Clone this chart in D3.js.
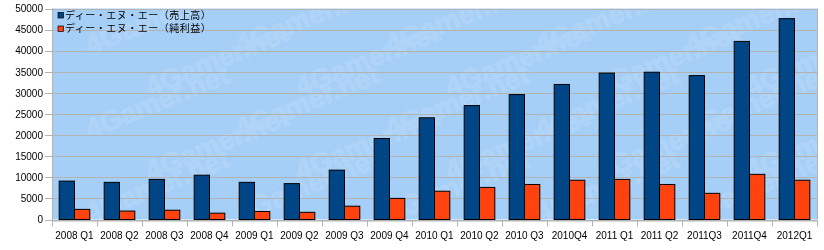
<!DOCTYPE html>
<html>
<head>
<meta charset="utf-8">
<script src="https://cdn.jsdelivr.net/npm/d3@7"></script>
<style>
  body { margin: 0; background: #fff; }
  text { font-family: "Liberation Sans", Arial, sans-serif; }
</style>
</head>
<body>
<div class="chart"></div>
<script>
var quarters = ['2008 Q1', '2008 Q2', '2008 Q3', '2008 Q4', '2009 Q1', '2009 Q2', '2009 Q3', '2009 Q4',
  '2010 Q1', '2010 Q2', '2010 Q3', '2010Q4', '2011 Q1', '2011 Q2', '2011Q3', '2011Q4', '2012Q1'];
var sales = [9100, 8800, 9500, 10500, 8800, 8500, 11700, 19200, 24100, 27000, 29600, 32000, 34700, 34900, 34100, 42200, 47600];
var profit = [2400, 2000, 2200, 1500, 1900, 1700, 3150, 5000, 6700, 7600, 8300, 9300, 9500, 8300, 6200, 10700, 9300];
var seriesNames = ['ディー・エヌ・エー（売上高）', 'ディー・エヌ・エー（純利益）'];
var colors = ['#004586', '#ff420e'];
var yTicks = [0, 5000, 10000, 15000, 20000, 25000, 30000, 35000, 40000, 45000, 50000];

var W = 824, H = 250;
var plotLeft = 52, plotRight = 817, plotTop = 8.5, plotBottom = 219.5;

var svg = d3.select('.chart')
  .append('svg')
    .attr('width', W)
    .attr('height', H);

var x = d3.scaleBand().domain(quarters).range([plotLeft, plotRight]);
var x1 = d3.scaleBand().domain([0, 1]).range([0, x.bandwidth()]).paddingOuter(0.47);
var y = d3.scaleLinear().domain([0, 50000]).range([plotBottom, plotTop]);

svg.append('clipPath').attr('id', 'plotclip')
  .append('rect')
  .attr('x', plotLeft).attr('y', plotTop)
  .attr('width', plotRight - plotLeft).attr('height', plotBottom - plotTop);

// plot background
svg.append('rect')
  .attr('x', plotLeft).attr('y', plotTop)
  .attr('width', plotRight - plotLeft).attr('height', plotBottom - plotTop)
  .attr('fill', '#a6cff7');

// faint watermark (decoration in the source image)
var wm = svg.append('g').attr('opacity', 0.12).attr('clip-path', 'url(#plotclip)');
for (var r = 0; r < 5; r++) {
  for (var c = 0; c < 5; c++) {
    wm.append('text')
      .attr('transform', 'translate(' + (90 + c * 150 + (r % 2) * 60) + ',' + (55 + r * 42) + ') rotate(-22)')
      .attr('font-size', 28)
      .attr('font-weight', 'bold')
      .attr('fill', '#ffffff')
      .attr('stroke', '#ffffff')
      .attr('stroke-width', 1)
      .text('4Gamer.net');
  }
}

// gridlines
svg.append('g')
  .selectAll('line')
  .data(yTicks)
  .enter()
    .append('line')
    .attr('x1', plotLeft - 7).attr('x2', plotRight)
    .attr('y1', d => Math.round(y(d)) + 0.5)
    .attr('y2', d => Math.round(y(d)) + 0.5)
    .attr('stroke', '#b3b3b3');

svg.append('line')
  .attr('x1', plotRight + 0.5).attr('x2', plotRight + 0.5)
  .attr('y1', plotTop).attr('y2', plotBottom)
  .attr('stroke', '#b3b3b3');

// y axis
var yAxis = svg.append('g')
  .attr('transform', 'translate(' + (plotLeft - 7) + ',0)')
  .call(d3.axisLeft(y).tickValues(yTicks).tickSize(0).tickPadding(2).tickFormat(d3.format('d')));
yAxis.select('.domain').remove();
yAxis.selectAll('text').attr('font-size', 10).attr('fill', '#000').attr('font-family', '"Liberation Sans", Arial, sans-serif');

svg.append('line')
  .attr('x1', plotLeft + 0.5).attr('x2', plotLeft + 0.5)
  .attr('y1', plotTop).attr('y2', plotBottom + 6)
  .attr('stroke', '#b3b3b3');

// x axis
var xAxis = svg.append('g')
  .attr('transform', 'translate(0,' + (Math.round(plotBottom) + 0.5) + ')')
  .call(d3.axisBottom(x).tickSize(0).tickPadding(11));
xAxis.select('.domain').attr('stroke', '#b3b3b3');
xAxis.selectAll('text').attr('font-size', 10).attr('fill', '#000').attr('font-family', '"Liberation Sans", Arial, sans-serif');
xAxis.selectAll('.sep')
  .data(quarters.concat(['end']))
  .enter()
    .append('line')
    .attr('class', 'sep')
    .attr('x1', (d, i) => Math.round(plotLeft + i * x.step()) + 0.5)
    .attr('x2', (d, i) => Math.round(plotLeft + i * x.step()) + 0.5)
    .attr('y1', 0).attr('y2', 6)
    .attr('stroke', '#b3b3b3');

// bars
var group = svg.append('g')
  .selectAll('g')
  .data(quarters)
  .enter()
    .append('g')
    .attr('transform', d => 'translate(' + x(d) + ',0)');

group.selectAll('rect')
  .data((d, i) => [sales[i], profit[i]])
  .enter()
    .append('rect')
    .attr('x', (d, j) => x1(j))
    .attr('y', d => y(d))
    .attr('width', x1.bandwidth())
    .attr('height', d => plotBottom - y(d))
    .attr('fill', (d, j) => colors[j])
    .attr('stroke', '#000')
    .attr('stroke-width', 1);

// legend
var legend = svg.append('g')
  .selectAll('g')
  .data(seriesNames)
  .enter()
    .append('g')
    .attr('transform', (d, i) => 'translate(58,' + (12.5 + i * 13.5) + ')');

legend.append('rect')
  .attr('width', 5.5).attr('height', 5.5)
  .attr('fill', (d, i) => colors[i])
  .attr('stroke', '#000')
  .attr('stroke-width', 0.7);

legend.append('text')
  .attr('x', 7)
  .attr('y', 6)
  .attr('font-size', 10)
  .attr('letter-spacing', 0.5)
  .style('font-family', '"Noto Sans CJK JP", sans-serif')
  .text(d => d);
</script>
</body>
</html>
